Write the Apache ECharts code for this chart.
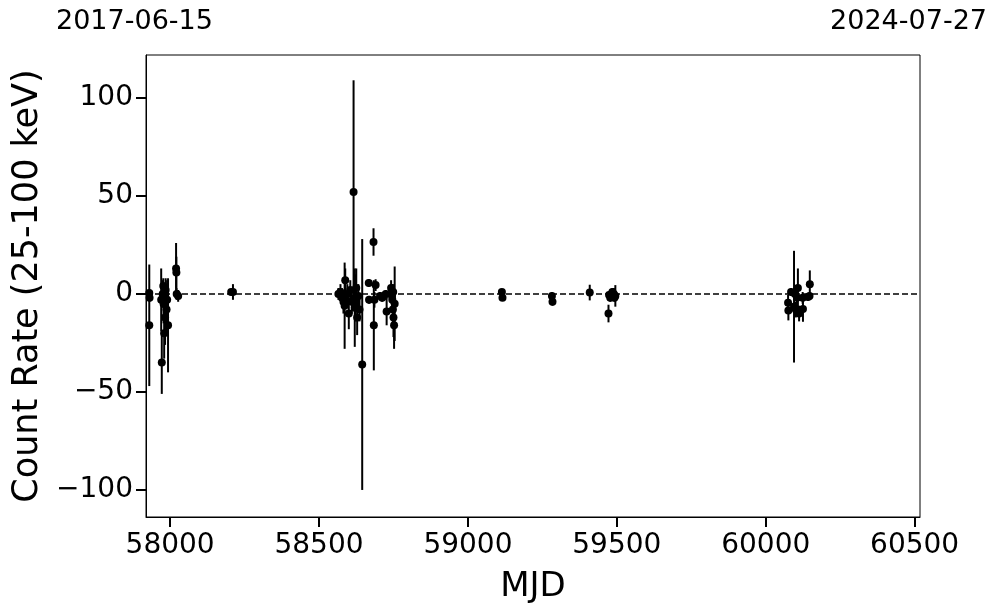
<!DOCTYPE html>
<html>
<head>
<meta charset="utf-8">
<script src="https://cdn.jsdelivr.net/npm/echarts@6/dist/echarts.min.js"></script>
<style>html,body{margin:0;padding:0;background:#fff}#c{width:997px;height:613px}</style>
</head>
<body>
<div id="c"></div>
<script>
// MJD of each measurement
const mjd = [
  57930, 57930, 57931, 57972, 57970, 57975, 57978, 57980, 57983, 57985, 57988, 57990, 57993, 57977, 57982,
  58020, 58021, 58022, 58027, 58205, 58211,
  58565, 58572, 58577, 58582, 58586, 58588, 58590, 58595, 58600, 58605, 58610, 58616, 58620, 58622, 58625,
  58628, 58632, 58636, 58645, 58667, 58668, 58683, 58684, 58686, 58690,
  58705, 58712, 58718, 58724, 58727, 58742, 58744, 58746, 58748, 58750, 58752, 58754, 58745, 58749,
  59114, 59116, 59282, 59284, 59409, 59472, 59474, 59478, 59485, 59490, 59495, 59492,
  60075, 60076, 60085, 60095, 60098, 60101, 60108, 60105, 60112, 60125, 60124, 60142, 60148, 60147
];
// Count rate (25-100 keV)
const rate = [
  -16, 0.5, -2, -35, -3, 0, -5, -20, -12, 2, -8, -3, -16, 4, -1,
  13, 11, 0, -1, 1, 1,
  0, 1, -2, -4, -6, 7, -3, 0, -10, 2, -4, 52, -7, -2, 3,
  -12, -1, -8, -36, 5.6, -3, 26.5, -16, -3, 4.5,
  -1, -2, -1, 0, -9, 3, 0, -3, -8, -12, -16, -5, -1, 1,
  1, -2, -1, -4, 0.7, -10, -0.5, -2, 1, 0, -1, -2,
  -4.5, -8.5, 1, -6.5, 0, -8, 3, -2, -10, -7.7, -2, -1.5, 5, -1
];
// 1-sigma errors
const err = [
  31, 2, 2, 16, 16, 7, 10, 13, 14, 6, 12, 10, 24, 4, 6,
  13, 8, 3, 3, 1, 4,
  3, 4, 5, 6, 22, 6, 4, 5, 8, 5, 6, 57, 20, 12, 10,
  9, 6, 6, 64, 2, 2, 7, 23, 4, 3,
  2, 2, 2, 2, 7, 4, 5, 6, 8, 10, 12, 19, 3, 4,
  1.5, 1.5, 2, 2, 4, 4.5, 2, 2, 2, 3, 5.5, 2,
  4, 5, 2, 28.5, 3, 4, 10, 5, 4, 6.5, 3, 2, 7, 2
];
const xTicks = [58000, 58500, 59000, 59500, 60000, 60500];
const yTicks = [-100, -50, 0, 50, 100];
const startLabel = '2017-06-15';
const endLabel = '2024-07-27';

const X_MIN = 57919, X_MAX = 60518, Y_MIN = -113.8, Y_MAX = 121.9;
const TICK_LEN = 10;
const pts = mjd.map((m, i) => [m, rate[i], err[i]]);
const font = 'DejaVu Sans';
const chart = echarts.init(document.getElementById('c'), null, {renderer: 'canvas'});
chart.setOption({
  animation: false,
  backgroundColor: '#fff',
  grid: {left: 146, right: 77, top: 55, bottom: 96, show: true, borderColor: '#000', borderWidth: 1, backgroundColor: 'transparent'},
  xAxis: {
    type: 'value', min: X_MIN, max: X_MAX,
    name: 'MJD', nameLocation: 'middle', nameGap: 53,
    nameTextStyle: {fontFamily: font, fontSize: 34, color: '#000'},
    axisLine: {show: true, onZero: false, lineStyle: {color: '#000', width: 1}},
    axisTick: {show: false},
    axisLabel: {fontFamily: font, fontSize: 28, color: '#000', margin: 15, customValues: xTicks,
      formatter: v => String(v)},
    splitLine: {show: false}
  },
  yAxis: {
    type: 'value', min: Y_MIN, max: Y_MAX,
    name: 'Count Rate (25-100 keV)', nameLocation: 'middle', nameGap: 92,
    nameTextStyle: {fontFamily: font, fontSize: 35, color: '#000'},
    axisLine: {show: true, onZero: false, lineStyle: {color: '#000', width: 1}},
    axisTick: {show: false},
    axisLabel: {fontFamily: font, fontSize: 28, color: '#000', margin: 13, customValues: yTicks,
      formatter: v => v < 0 ? '\u2212' + Math.abs(v) : String(v)},
    splitLine: {show: false}
  },
  series: [
    {
      type: 'custom',
      data: pts,
      renderItem: (params, api) => {
        const x = api.value(0), y = api.value(1), e = api.value(2);
        const p1 = api.coord([x, y - e]);
        const p2 = api.coord([x, y + e]);
        return {type: 'line', shape: {x1: p1[0], y1: p1[1], x2: p2[0], y2: p2[1]},
          style: {stroke: '#000', lineWidth: 2}};
      },
      encode: {x: 0, y: 1},
      z: 2
    },
    {
      type: 'scatter',
      data: pts.map(p => [p[0], p[1]]),
      symbol: 'circle', symbolSize: 8,
      itemStyle: {color: '#000', opacity: 1},
      z: 3,
      markLine: {
        silent: true, symbol: 'none',
        lineStyle: {color: '#000', type: [6, 3], width: 1.5, opacity: 1},
        label: {show: false},
        data: [{yAxis: 0}]
      }
    }
  ]
});

// Header texts and outward tick marks (tick positions come from the chart's own scales)
const gfx = [
  {type: 'text', left: 56, top: 8, style: {text: startLabel, font: '27px "DejaVu Sans"', fill: '#000'}},
  {type: 'text', right: 10, top: 8, style: {text: endLabel, font: '27px "DejaVu Sans"', fill: '#000'}}
];
xTicks.forEach(v => {
  const p = chart.convertToPixel({gridIndex: 0}, [v, Y_MIN]);
  const x = Math.round(p[0]);
  gfx.push({type: 'line', zlevel: 1, silent: true,
    shape: {x1: x, y1: p[1], x2: x, y2: p[1] + TICK_LEN},
    style: {stroke: '#000', lineWidth: 2}});
});
yTicks.forEach(v => {
  const p = chart.convertToPixel({gridIndex: 0}, [X_MIN, v]);
  const y = Math.round(p[1]);
  gfx.push({type: 'line', zlevel: 1, silent: true,
    shape: {x1: p[0] - TICK_LEN, y1: y, x2: p[0], y2: y},
    style: {stroke: '#000', lineWidth: 2}});
});
chart.setOption({graphic: gfx});
</script>
</body>
</html>
